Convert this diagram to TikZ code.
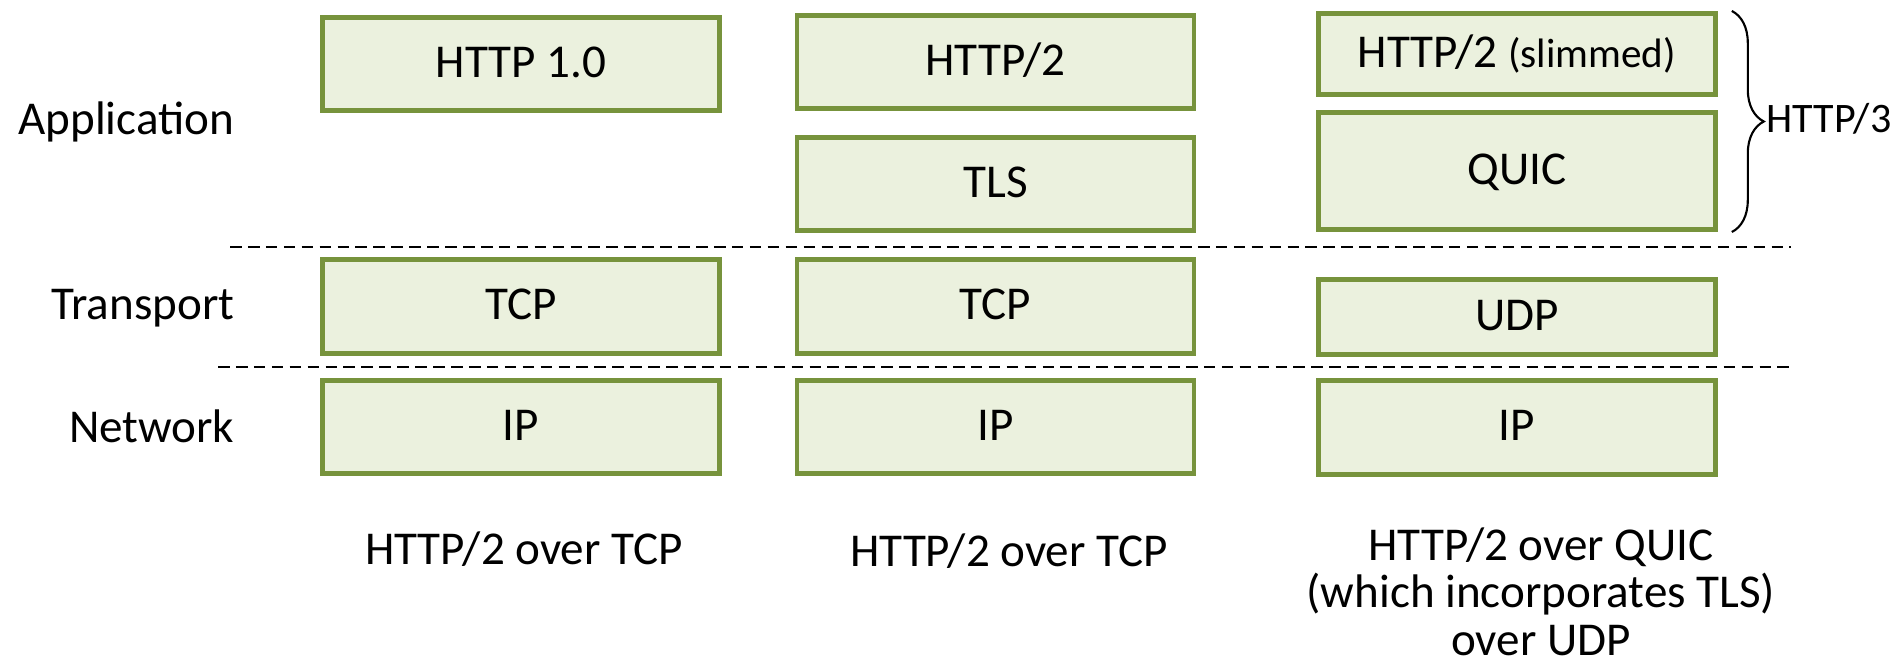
\documentclass[tikz,border=0pt]{standalone}
\usepackage{fontspec}
\setmainfont{Carlito}
\usepackage{tikz}
\usetikzlibrary{positioning,decorations.pathreplacing}
\definecolor{boxline}{HTML}{77933C}
\definecolor{boxfill}{HTML}{EBF1DE}

\begin{document}
\begin{tikzpicture}
	[font=\fontsize{13.4}{13.4}\selectfont, inner sep=0pt,
	layer/.style	= {rectangle,draw=boxline,fill=boxfill,line width=1.3pt,minimum width=3.97cm,minimum height=0.935cm,text height=0.76em,text depth=0pt},
	tier/.style	= {anchor=base east},
	caption/.style	= {anchor=base, align=center},
	divider/.style	= {dash pattern=on 3.3pt off 1.8pt, line width=0.85pt},
	group/.style	= {decorate, decoration={brace, amplitude=3.2mm}, line width=0.6pt}]

	\useasboundingbox (0, 0) rectangle (19, -6.62);

	\node at (2.35, -1.35)		[tier]	(app)	{Application};
	\node at (2.35, -3.20)		[tier]	(trans)	{Transport};
	\node at (2.35, -4.43)		[tier]	(net)	{Network};

	\node at (5.21, -0.64)		[layer]	(h1)	{HTTP 1.0};
	\node at (5.21, -3.065)		[layer]	(tcpa)	{TCP};
	\node at (5.21, -4.27)		[layer]	(ipa)	{IP};

	\node at (9.955, -0.62)		[layer]	(h2)	{HTTP/2};
	\node at (9.955, -1.84)		[layer]	(tls)	{TLS};
	\node at (9.955, -3.065)	[layer]	(tcpb)	{TCP};
	\node at (9.955, -4.27)		[layer]	(ipb)	{IP};

	\node at (15.17, -0.54)		[layer, minimum height=0.815cm]	(slim)	{HTTP/2 {\fontsize{11.7}{11.7}\selectfont(slimmed)}};
	\node at (15.17, -1.71)		[layer, minimum height=1.175cm]	(quic)	{QUIC};
	\node at (15.17, -3.17)		[layer, minimum height=0.755cm]	(udp)	{UDP};
	\node at (15.17, -4.275)	[layer]	(ipc)	{IP};

	\coordinate (d1a) at (2.30, -2.47);
	\coordinate (d1b) at (17.91, -2.47);
	\coordinate (d2a) at (2.18, -3.67);
	\coordinate (d2b) at (17.91, -3.67);
	\draw [divider] (d1a) -- (d1b);
	\draw [divider] (d2a) -- (d2b);

	\draw [group] ([xshift=1.4mm]slim.north east) -- ([xshift=1.4mm]quic.south east);
	\node at (17.66, -1.215)	[anchor=west, font=\fontsize{11.95}{11.95}\selectfont, text height=0.64em, text depth=0pt]	(http3)	{HTTP/3};

	\node at (5.24, -5.65)		[caption]	(capa)	{HTTP/2 over TCP};
	\node at (10.09, -5.67)		[caption]	(capb)	{HTTP/2 over TCP};
	\node at (15.41, -6.55)		[caption]	(capc)	{HTTP/2 over QUIC\\(which incorporates TLS)\\over UDP};

\end{tikzpicture}
\end{document}
